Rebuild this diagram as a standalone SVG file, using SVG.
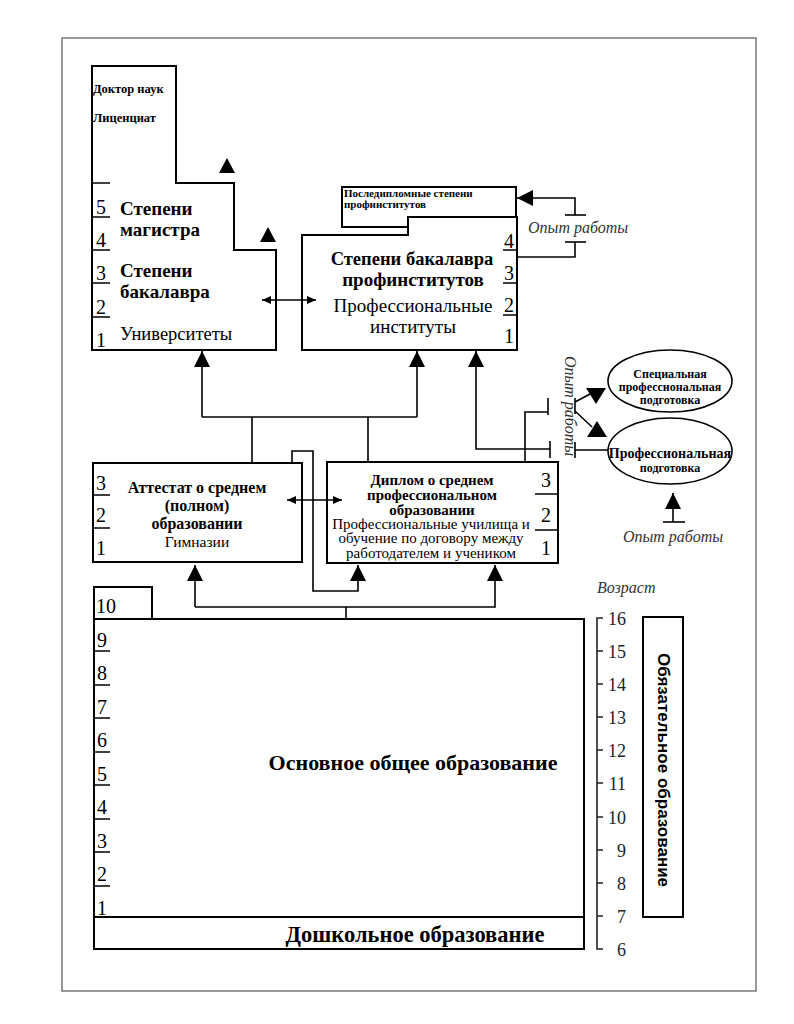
<svg xmlns="http://www.w3.org/2000/svg" width="794" height="1024" viewBox="0 0 794 1024">
<defs>
<style>
.box{fill:#fff;stroke:#000;stroke-width:2}
.ln{fill:none;stroke:#000;stroke-width:1.6}
.tk{fill:none;stroke:#000;stroke-width:1.6}
text{font-family:'Liberation Serif','Times New Roman','DejaVu Serif',serif}
.s{fill:#000}
.b{font-weight:bold}
.num{font-size:20px;fill:#000}
.age{font-size:18px;fill:#222;text-anchor:end}
.it{font-style:italic;font-size:16px;fill:#333}
.c{text-anchor:middle}
</style>
<marker id="ah" markerUnits="userSpaceOnUse" markerWidth="16" markerHeight="16" refX="16" refY="8" orient="auto" viewBox="0 0 16 16"><path d="M0,0 L16,8 L0,16 Z" fill="#000"/></marker>
<marker id="sa" markerUnits="userSpaceOnUse" markerWidth="9" markerHeight="8" refX="9" refY="4" orient="auto" viewBox="0 0 9 8"><path d="M0,0 L9,4 L0,8 Z" fill="#000"/></marker>
<marker id="sb" markerUnits="userSpaceOnUse" markerWidth="9" markerHeight="8" refX="0" refY="4" orient="auto" viewBox="0 0 9 8"><path d="M9,0 L0,4 L9,8 Z" fill="#000"/></marker>
</defs>
<rect x="0" y="0" width="794" height="1024" fill="#fff"/>
<rect x="62" y="38" width="694" height="953" fill="none" stroke="#555" stroke-width="1.2"/>

<g id="node-university">
<path class="box" d="M92,66 H176 V183 H234 V250 H276 V350 H92 Z"/>
<path class="tk" d="M92,183 H110 M92,217 H110 M92,250 H110 M92,283 H110 M92,317 H110"/>
<text class="s b" x="93" y="93" font-size="12.5">Доктор наук</text>
<text class="s b" x="93" y="122" font-size="12.5">Лиценциат</text>
<text class="num" x="96" y="214">5</text>
<text class="num" x="96" y="247">4</text>
<text class="num" x="96" y="280">3</text>
<text class="num" x="96" y="314">2</text>
<text class="num" x="96" y="347">1</text>
<text class="s b" x="120" y="215" font-size="19">Степени</text>
<text class="s b" x="120" y="236" font-size="19">магистра</text>
<text class="s b" x="120" y="277" font-size="19">Степени</text>
<text class="s b" x="120" y="298" font-size="19">бакалавра</text>
<text class="s" x="120" y="340" font-size="18.5">Университеты</text>
</g>

<g id="node-postgrad">
<rect class="box" x="342" y="187" width="174" height="40" stroke-width="1.6"/>
<text class="s b" x="344" y="197" font-size="11">Последипломные степени</text>
<text class="s b" x="344" y="208" font-size="11">профинститутов</text>
</g>

<g id="node-profinst">
<path class="box" d="M302,235 H408 V217 H517 V350 H302 Z"/>
<path class="tk" d="M503,250 H517 M503,283 H517 M503,315 H517"/>
<text class="num" x="504" y="248">4</text>
<text class="num" x="504" y="280">3</text>
<text class="num" x="504" y="312">2</text>
<text class="num" x="504" y="343">1</text>
<text class="s b c" x="412" y="265" font-size="18.5">Степени бакалавра</text>
<text class="s b c" x="413" y="286" font-size="19">профинститутов</text>
<text class="s c" x="413" y="312" font-size="19">Профессиональные</text>
<text class="s c" x="413" y="333" font-size="19">институты</text>
</g>

<g id="node-opyt-top">
<text class="it" x="528" y="233">Опыт работы</text>
</g>

<g id="node-special">
<ellipse cx="670" cy="381" rx="62" ry="31" fill="#fff" stroke="#000" stroke-width="1.6"/>
<text class="s b c" x="670" y="378" font-size="12">Специальная</text>
<text class="s b c" x="670" y="391" font-size="12">профессиональная</text>
<text class="s b c" x="670" y="404" font-size="12">подготовка</text>
</g>

<g id="node-prof">
<ellipse cx="670" cy="451" rx="62" ry="33" fill="#fff" stroke="#000" stroke-width="1.6"/>
<text class="s b c" x="670" y="458" font-size="14">Профессиональная</text>
<text class="s b c" x="670" y="472" font-size="12">подготовка</text>
</g>

<g id="node-opyt-mid">
<text class="it c" x="0" y="0" transform="translate(565,406) rotate(90)">Опыт работы</text>
</g>

<g id="node-opyt-bottom">
<text class="it c" x="673" y="542">Опыт работы</text>
</g>

<g id="node-attestat">
<rect class="box" x="93" y="463" width="209" height="99"/>
<path class="tk" d="M93,495 H110 M93,528 H110"/>
<text class="num" x="96" y="490">3</text>
<text class="num" x="96" y="522">2</text>
<text class="num" x="96" y="555">1</text>
<text class="s b c" x="197" y="493" font-size="16">Аттестат о среднем</text>
<text class="s b c" x="197" y="511" font-size="16">(полном)</text>
<text class="s b c" x="197" y="529" font-size="16">образовании</text>
<text class="s c" x="197" y="547" font-size="15.5">Гимназии</text>
</g>

<g id="node-diplom">
<rect class="box" x="327" y="462" width="231" height="101"/>
<path class="tk" d="M535,494 H558 M535,530 H558"/>
<text class="num" x="541" y="487">3</text>
<text class="num" x="541" y="522">2</text>
<text class="num" x="541" y="555">1</text>
<text class="s b c" x="432" y="485" font-size="15">Диплом о среднем</text>
<text class="s b c" x="432" y="500" font-size="15">профессиональном</text>
<text class="s b c" x="432" y="515" font-size="15">образовании</text>
<text class="s c" x="431" y="529" font-size="15">Профессиональные училища и</text>
<text class="s c" x="431" y="543" font-size="15">обучение по договору между</text>
<text class="s c" x="431" y="558" font-size="15">работодателем и учеником</text>
</g>

<g id="node-osnovnoe">
<rect class="box" x="94" y="587" width="58" height="32"/>
<rect class="box" x="94" y="619" width="490" height="298"/>
<path class="tk" d="M94,651 H110 M94,685 H110 M94,718 H110 M94,752 H110 M94,785 H110 M94,819 H110 M94,852 H110 M94,886 H110"/>
<text class="num" x="96" y="613">10</text>
<text class="num" x="97" y="647">9</text>
<text class="num" x="97" y="680">8</text>
<text class="num" x="97" y="714">7</text>
<text class="num" x="97" y="747">6</text>
<text class="num" x="97" y="781">5</text>
<text class="num" x="97" y="814">4</text>
<text class="num" x="97" y="848">3</text>
<text class="num" x="97" y="881">2</text>
<text class="num" x="97" y="915">1</text>
<text class="s b c" x="413" y="770" font-size="22">Основное общее образование</text>
</g>

<g id="node-doshkolnoe">
<rect class="box" x="94" y="917" width="490" height="32"/>
<text class="s b c" x="415" y="942" font-size="22.5">Дошкольное образование</text>
</g>

<g id="node-age">
<text class="it" x="597" y="593" font-size="15">Возраст</text>
<path fill="none" stroke="#222" stroke-width="1.6" d="M603,618 H597 V949 H603 M597,651 H603 M597,684 H603 M597,717 H603 M597,750 H603 M597,783 H603 M597,817 H603 M597,850 H603 M597,883 H603 M597,916 H603"/>
<text class="age" x="626" y="625">16</text>
<text class="age" x="626" y="658">15</text>
<text class="age" x="626" y="691">14</text>
<text class="age" x="626" y="724">13</text>
<text class="age" x="626" y="757">12</text>
<text class="age" x="626" y="790">11</text>
<text class="age" x="626" y="824">10</text>
<text class="age" x="626" y="857">9</text>
<text class="age" x="626" y="890">8</text>
<text class="age" x="626" y="923">7</text>
<text class="age" x="626" y="956">6</text>
</g>

<g id="node-obyazat">
<rect class="box" x="643" y="617" width="40" height="300"/>
<text x="0" y="0" transform="translate(663,770) rotate(90)" style="font-family:'Liberation Sans',Arial,sans-serif" font-weight="bold" font-size="17" text-anchor="middle" dominant-baseline="central">Обязательное образование</text>
</g>

<g id="connectors">
<path class="ln" d="M262,300 H316" marker-start="url(#sb)" marker-end="url(#sa)"/>
<path class="ln" d="M287,500 H342" marker-start="url(#sb)" marker-end="url(#sa)"/>
<path class="ln" d="M202,417 H417"/>
<path class="ln" d="M202,417 V351" marker-end="url(#ah)"/>
<path class="ln" d="M417,417 V351" marker-end="url(#ah)"/>
<path class="ln" d="M252,463 V417"/>
<path class="ln" d="M368,462 V417"/>
<path class="ln" d="M292,463 V451 H313 V591 H358 V565" marker-end="url(#ah)"/>
<path class="ln" d="M346,619 V607"/>
<path class="ln" d="M195,607 H495 V565" marker-end="url(#ah)"/>
<path class="ln" d="M195,607 V565" marker-end="url(#ah)"/>
<path class="ln" d="M550,449 H476 V351" marker-end="url(#ah)"/>
<path class="tk" d="M550,441 V458"/>
<path class="ln" d="M525,462 V412 H548"/>
<path class="tk" d="M548,398 V415"/>
<path class="tk" d="M575,398 V414"/>
<path class="ln" d="M575,402 L590,394"/>
<path class="ln" d="M575,411 L592,427"/>
<polygon points="586,388 606,388 596,404" fill="#000"/>
<polygon points="597,421 587,437 607,437" fill="#000"/>
<path class="tk" d="M575,442 V458"/>
<path class="ln" d="M575,450 H608"/>
<path class="tk" d="M663,522 H685"/>
<path class="ln" d="M673,522 V493" marker-end="url(#ah)"/>
<path class="ln" d="M575,215 V198 H517" marker-end="url(#ah)"/>
<path class="tk" d="M565,215 H586"/>
<path class="tk" d="M565,242 H586"/>
<path class="ln" d="M575,242 V257 H517"/>
<polygon points="227,158 219,173 235,173" fill="#000"/>
<polygon points="268,227 260,242 276,242" fill="#000"/>
</g>
</svg>
